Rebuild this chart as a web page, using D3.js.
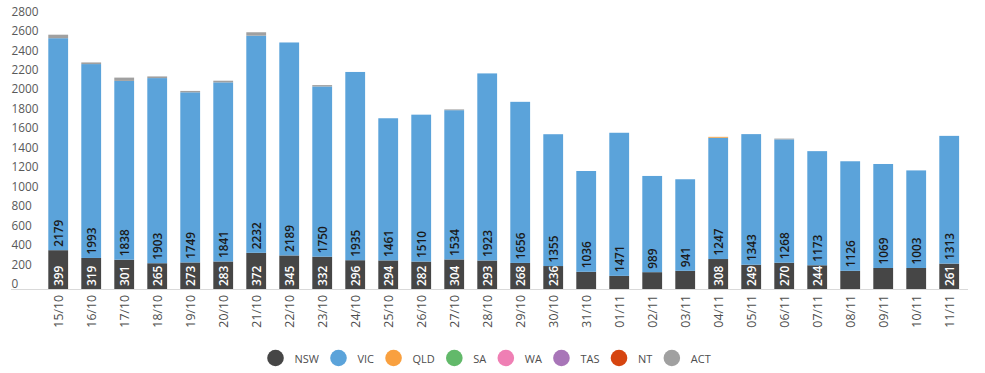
<!DOCTYPE html>
<html>
<head>
<meta charset="utf-8">
<script src="https://cdn.jsdelivr.net/npm/d3@7"></script>
<style>
  body { margin: 0; background: #fff; }
  text { font-family: "Open Sans", sans-serif; }
</style>
</head>
<body>
<script>
// daily cases by state
var dates = ["15/10","16/10","17/10","18/10","19/10","20/10","21/10","22/10","23/10","24/10","25/10","26/10","27/10","28/10","29/10","30/10","31/10",
             "01/11","02/11","03/11","04/11","05/11","06/11","07/11","08/11","09/11","10/11","11/11"];
var nsw = [399,319,301,265,273,283,372,345,332,296,294,282,304,293,268,236,177,135,173,187,308,249,270,244,187,216,216,261];
var vic = [2179,1993,1838,1903,1749,1841,2232,2189,1750,1935,1461,1510,1534,1923,1656,1355,1036,1471,989,941,1247,1343,1268,1173,1126,1069,1003,1313];
var qld = [0,0,0,0,0,0,0,0,0,0,0,0,0,0,0,0,0,0,0,0,9,0,0,0,0,0,0,0];
var sa  = [0,0,0,0,0,0,0,0,0,0,0,0,0,0,0,0,0,0,0,0,0,0,0,0,0,0,0,0];
var wa  = [0,0,0,0,0,0,0,0,0,0,0,0,0,0,0,0,0,0,0,0,0,0,0,0,0,0,0,0];
var tas = [0,0,0,0,0,0,0,0,0,0,0,0,0,0,0,0,0,0,0,0,0,0,0,0,0,0,0,0];
var nt  = [0,0,0,0,0,0,0,0,0,0,0,0,0,0,0,0,0,0,0,0,0,0,0,0,0,0,0,0];
var act = [36,17,34,17,14,17,35,0,14,0,0,0,8,0,0,0,0,0,0,0,0,0,8,0,0,0,0,0];
var states = ["NSW","VIC","QLD","SA","WA","TAS","NT","ACT"];
var colors = ["#464646","#5ba3da","#f9a03f","#62b96a","#ef7fb4","#a875b8","#d64510","#a0a0a0"];
var yTicks = d3.range(0, 2801, 200);

var width = 985, height = 373;
var svg = d3.select("body").append("svg")
    .attr("width", width)
    .attr("height", height);

// build rows for the stack
var series = [nsw, vic, qld, sa, wa, tas, nt, act];
var rows = dates.map(function(d, i){
  var r = {date: d};
  states.forEach(function(s, k){ r[s] = series[k][i]; });
  return r;
});
var stacked = d3.stack().keys(states)(rows);

var x = d3.scaleBand()
    .domain(dates)
    .range([41.7, 965.7])
    .paddingInner(0.4)
    .paddingOuter(0.2);

var y = d3.scaleLinear()
    .domain([0, 2800])
    .range([289, 16.6]);

var color = d3.scaleOrdinal().domain(states).range(colors);

// y labels (left aligned, sitting a little above their value)
svg.append("g").selectAll("text")
  .data(yTicks)
  .enter().append("text")
    .attr("x", 11.5)
    .attr("y", function(d){ return y(d) - 6; })
    .attr("dominant-baseline", "central")
    .attr("font-size", "11.8px")
    .attr("fill", "#595959")
    .text(function(d){ return d; });

// baseline
svg.append("line")
    .attr("x1", 11).attr("x2", 968)
    .attr("y1", y(0) + 0.5).attr("y2", y(0) + 0.5)
    .attr("stroke", "#d9d9d9");

// bars
svg.append("g").selectAll("g")
  .data(stacked)
  .enter().append("g")
    .attr("fill", function(d){ return color(d.key); })
  .selectAll("rect")
  .data(function(d){ return d; })
  .enter().append("rect")
    .attr("x", function(d){ return x(d.data.date); })
    .attr("width", x.bandwidth())
    .attr("y", function(d){ return y(d[1]); })
    .attr("height", function(d){ return y(d[0]) - y(d[1]); });

// NSW labels (white, only where the segment is tall enough)
svg.append("g").selectAll("text")
  .data(stacked[0].filter(function(d){ return y(d[0]) - y(d[1]) >= 22; }))
  .enter().append("text")
    .attr("transform", function(d){
      return "translate(" + (x(d.data.date) + x.bandwidth()/2) + "," + (y(d[0]) - 3) + ") rotate(-90)";
    })
    .attr("dominant-baseline", "central")
    .attr("font-size", "11.8px")
    .attr("font-weight", 600)
    .attr("fill", "#fff")
    .text(function(d){ return d.data.NSW; });

// VIC labels
svg.append("g").selectAll("text")
  .data(stacked[1])
  .enter().append("text")
    .attr("transform", function(d){
      return "translate(" + (x(d.data.date) + x.bandwidth()/2) + "," + (y(d[0]) - 3.5) + ") rotate(-90)";
    })
    .attr("dominant-baseline", "central")
    .attr("font-size", "11.8px")
    .attr("font-weight", 600)
    .attr("fill", "#1a1a1a")
    .text(function(d){ return d.data.VIC; });

// x labels
svg.append("g").selectAll("text")
  .data(dates)
  .enter().append("text")
    .attr("transform", function(d){
      return "translate(" + (x(d) + x.bandwidth()/2) + ",295) rotate(-90)";
    })
    .attr("text-anchor", "end")
    .attr("dominant-baseline", "central")
    .attr("font-size", "12.3px")
    .attr("fill", "#4d4d4d")
    .text(function(d){ return d; });

// legend
var legend = svg.append("g");
var items = legend.selectAll("g")
  .data(states)
  .enter().append("g");
items.append("circle")
    .attr("r", 8.3)
    .attr("fill", function(d){ return color(d); });
items.append("text")
    .attr("x", 19)
    .attr("dominant-baseline", "central")
    .attr("font-size", "11px")
    .attr("fill", "#4d4d4d")
    .text(function(d){ return d; });
var pos = 0, ends = [];
items.each(function(){
  var w = d3.select(this).select("text").node().getComputedTextLength();
  d3.select(this).attr("transform", "translate(" + pos + ",0)");
  ends.push(pos + 19 + w);
  pos += 19 + w + 19.5;
});
var total = ends[ends.length - 1] + 8.3;
legend.attr("transform", "translate(" + (489 - total/2 + 8.3) + ",358)");
</script>
</body>
</html>
